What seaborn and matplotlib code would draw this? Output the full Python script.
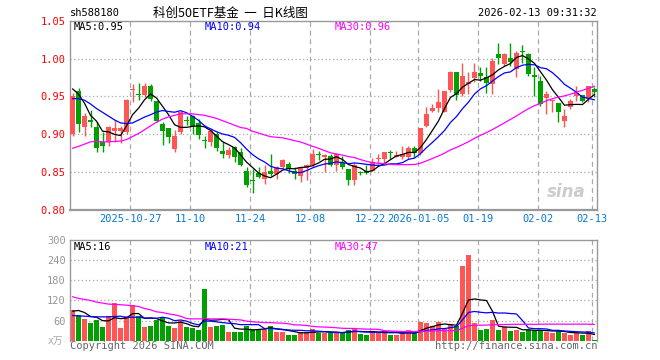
import numpy as np
import pandas as pd
import matplotlib
matplotlib.use("Agg")
import matplotlib.pyplot as plt
import seaborn as sns

# ---------------- data ----------------
opens = [0.900, 0.9575, 0.910, 0.919, 0.909, 0.8904, 0.8904, 0.904, 0.904, 0.9026,
         0.958, 0.9526, 0.9518, 0.964, 0.944, 0.9136, 0.908, 0.8807, 0.9026, 0.919,
         0.9237, 0.915, 0.8925, 0.8904, 0.9004, 0.8785, 0.8728, 0.883, 0.877, 0.852,
         0.840, 0.849, 0.841, 0.852, 0.8478, 0.8566, 0.861, 0.852, 0.8443, 0.8553,
         0.8588, 0.8737, 0.870, 0.871, 0.8588, 0.8623, 0.8544, 0.839, 0.8496, 0.8513,
         0.852, 0.8667, 0.8675, 0.8768, 0.8706, 0.8697, 0.8697, 0.882, 0.8754, 0.9114,
         0.931, 0.9346, 0.9298, 0.9583, 0.9816, 0.953, 0.9662, 0.9737, 0.9807, 0.9763,
         0.9662, 1.0057, 0.9934, 1.0013, 0.986, 1.0105, 1.0057, 0.9776, 0.9706, 0.9478,
         0.9434, 0.9412, 0.918, 0.9355, 0.950, 0.9517, 0.9465, 0.9596]
highs = [0.955, 0.9605, 0.928, 0.932, 0.9158, 0.9026, 0.9105, 0.919, 0.9105, 0.947,
         0.966, 0.9675, 0.9675, 0.966, 0.944, 0.9158, 0.908, 0.905, 0.931, 0.9246,
         0.9254, 0.920, 0.898, 0.908, 0.9035, 0.8904, 0.883, 0.885, 0.8816, 0.8566,
         0.8544, 0.8566, 0.8588, 0.874, 0.858, 0.8675, 0.863, 0.8566, 0.8566, 0.861,
         0.8807, 0.8785, 0.874, 0.874, 0.8754, 0.871, 0.8544, 0.8618, 0.852, 0.8588,
         0.8684, 0.874, 0.8763, 0.8798, 0.8785, 0.8842, 0.8842, 0.885, 0.9083, 0.9355,
         0.940, 0.9596, 0.9575, 0.9838, 0.9816, 0.9947, 0.9816, 0.9947, 0.9882, 0.9882,
         1.0013, 1.021, 1.007, 1.020, 1.010, 1.0175, 1.0079, 0.9882, 0.9772, 0.9575,
         0.9465, 0.9412, 0.9333, 0.9465, 0.964, 0.9517, 0.964, 0.9618]
lows = [0.898, 0.9026, 0.898, 0.909, 0.877, 0.877, 0.884, 0.890, 0.8886, 0.9004,
        0.942, 0.9456, 0.9487, 0.944, 0.9158, 0.886, 0.8886, 0.876, 0.9004, 0.912,
        0.9004, 0.894, 0.8816, 0.885, 0.8785, 0.8684, 0.8684, 0.863, 0.858, 0.830,
        0.8228, 0.842, 0.8346, 0.8447, 0.841, 0.8544, 0.849, 0.841, 0.8368, 0.839,
        0.8566, 0.8654, 0.850, 0.8575, 0.851, 0.8544, 0.8325, 0.8333, 0.8465, 0.847,
        0.851, 0.861, 0.8623, 0.8675, 0.8697, 0.8675, 0.8675, 0.8697, 0.8728, 0.909,
        0.929, 0.9298, 0.929, 0.9553, 0.9456, 0.9509, 0.953, 0.9684, 0.9706, 0.9544,
        0.953, 0.9925, 0.990, 0.990, 0.975, 0.9947, 0.9772, 0.9509, 0.9377, 0.9267,
        0.929, 0.9167, 0.910, 0.9333, 0.9443, 0.942, 0.943, 0.9487]
closes = [0.951, 0.9136, 0.9246, 0.9158, 0.8816, 0.885, 0.909, 0.908, 0.908, 0.945,
          0.959, 0.9518, 0.964, 0.9465, 0.918, 0.9048, 0.896, 0.898, 0.929, 0.918,
          0.9114, 0.899, 0.8917, 0.9048, 0.8816, 0.874, 0.8798, 0.8697, 0.8596, 0.8333,
          0.8386, 0.8434, 0.850, 0.8478, 0.8566, 0.8654, 0.8544, 0.8478, 0.8566, 0.8596,
          0.874, 0.8724, 0.872, 0.8588, 0.874, 0.8566, 0.839, 0.8588, 0.8487, 0.8487,
          0.864, 0.868, 0.8763, 0.8754, 0.8732, 0.874, 0.8816, 0.8754, 0.9083, 0.9268,
          0.9346, 0.943, 0.9575, 0.9816, 0.9518, 0.9772, 0.9684, 0.9825, 0.9772, 0.9675,
          0.9969, 1.0013, 1.0057, 0.9956, 1.0079, 1.0092, 0.9794, 0.9763, 0.940, 0.953,
          0.9452, 0.9298, 0.9237, 0.9443, 0.9544, 0.9443, 0.964, 0.956]
volumes = [92, 77, 65, 52, 63, 42, 73, 113, 37, 73,
           107, 75, 40, 45, 63, 72, 45, 39, 58, 40,
           37, 33, 153, 42, 43, 48, 27, 27, 27, 43,
           35, 35, 35, 45, 27, 27, 18, 18, 27, 27,
           35, 23, 23, 23, 23, 27, 33, 35, 20, 17,
           30, 25, 29, 18, 18, 20, 33, 23, 57, 53,
           45, 57, 37, 47, 45, 223, 255, 52, 33, 35,
           63, 33, 40, 30, 33, 27, 33, 30, 33, 27,
           22, 33, 22, 18, 23, 18, 30, 3]

# moving-average values at the left edge (need history before the window)
ma5_head = [0.960, 0.953, 0.941, 0.925]
ma10_head = [0.947, 0.947, 0.945, 0.940, 0.934, 0.929, 0.924, 0.919, 0.915]
ma30_head = [0.8815, 0.884, 0.887, 0.890, 0.8905, 0.890, 0.890, 0.8905, 0.891, 0.893,
             0.897, 0.901, 0.906, 0.911, 0.916, 0.920, 0.923, 0.925, 0.927, 0.927,
             0.927, 0.926, 0.925, 0.923, 0.921, 0.918, 0.915, 0.912, 0.909]
vma5_head = [88, 90, 84, 72]
vma10_head = [75, 74, 73, 72, 71, 71, 71, 72, 73]
vma30_head = [131, 126, 123, 120, 115, 112, 109, 108, 107, 106,
              104, 102, 96, 92, 86, 84, 80, 77, 73, 66,
              65, 65, 65, 65, 65, 65, 64, 63, 62]

tick_dates = ["2025-10-27", "2025-11-10", "2025-11-24", "2025-12-08", "2025-12-22",
              "2026-01-05", "2026-01-19", "2026-02-02", "2026-02-13"]
tick_labels = ["2025-10-27", "11-10", "11-24", "12-08", "12-22",
               "2026-01-05", "01-19", "02-02", "02-13"]
holidays = ["2026-01-01", "2026-01-02"]

title = "科创50ETF基金  一  日K线图"
code = "sh588180"
stamp = "2026-02-13 09:31:32"
price_labels = ["MA5:0.95", "MA10:0.94", "MA30:0.96"]
vol_labels = ["MA5:16", "MA10:21", "MA30:47"]

# ---------------- frame ----------------
dates = pd.bdate_range("2025-10-13", "2026-02-13").drop(pd.to_datetime(holidays))
df = pd.DataFrame({"date": dates, "open": opens, "high": highs, "low": lows,
                   "close": closes, "vol": volumes})
df["i"] = np.arange(len(df))


def ma(series, n, head):
    m = series.rolling(n).mean().to_numpy()
    m[:len(head)] = head
    return m


df["ma5"] = ma(df["close"], 5, ma5_head)
df["ma10"] = ma(df["close"], 10, ma10_head)
df["ma30"] = ma(df["close"], 30, ma30_head)
df["vma5"] = ma(df["vol"], 5, vma5_head)
df["vma10"] = ma(df["vol"], 10, vma10_head)
df["vma30"] = ma(df["vol"], 30, vma30_head)

RED = "#ff5555"
GREEN = "#00a000"
GRID = "#aaaaaa"
SPINE = "#999999"
MONO = "DejaVu Sans Mono"

sns.set_theme(style="white")
plt.rcParams["font.family"] = ["DejaVu Sans Mono", "Noto Sans CJK SC"]

W, H = 660, 360
fig = plt.figure(figsize=(6.6, 3.6), dpi=100)
fig.patch.set_facecolor("white")
ax = fig.add_axes([70 / W, 1 - 210 / H, 527 / W, (210 - 20.7) / H])
axv = fig.add_axes([70 / W, 1 - 340.7 / H, 527 / W, (340.7 - 240) / H])

up = df["close"] >= df["open"]
colors = np.where(up, RED, GREEN)
bw = 0.83
tick_pos = [int(df.index[df["date"] == pd.Timestamp(d)][0]) - bw / 2 for d in tick_dates]

# ---------------- price panel ----------------
for yv in [0.85, 0.90, 0.95, 1.00]:
    ax.axhline(yv, color=GRID, lw=0.9, ls=(0, (1, 2)), zorder=0)
for xv in tick_pos:
    ax.axvline(xv, color=GRID, lw=0.9, ls=(0, (4, 3)), zorder=0)

ax.vlines(df["i"], df["low"], df["high"], colors=colors, lw=1.0, zorder=2)
body_bottom = np.minimum(df["open"], df["close"])
body_h = np.maximum(np.abs(df["close"] - df["open"]), 0.0014)
ax.bar(df["i"], body_h, bottom=body_bottom, width=bw, color=colors, linewidth=0, zorder=3)

sns.lineplot(data=df, x="i", y="ma5", ax=ax, color="black", lw=0.9, zorder=4)
sns.lineplot(data=df, x="i", y="ma10", ax=ax, color="#0000ff", lw=0.9, zorder=4)
sns.lineplot(data=df, x="i", y="ma30", ax=ax, color="#ff00ff", lw=0.9, zorder=4)

ax.set_xlim(-bw / 2 - 0.005, len(df) - 1 + bw / 2 + 0.005)
ax.set_ylim(0.80, 1.05)
ax.set_yticks([0.80, 0.85, 0.90, 0.95, 1.00, 1.05])
ax.set_yticklabels(["0.80", "0.85", "0.90", "0.95", "1.00", "1.05"],
                   color="#ff0000", fontsize=7.5, family=MONO)
ax.set_xticks(tick_pos)
ax.set_xticklabels(tick_labels, color="#0a78d2", fontsize=7.5, family=MONO)
ax.tick_params(axis="both", length=0, pad=3)
ax.set_xlabel("")
ax.set_ylabel("")
for s in ax.spines.values():
    s.set_color(SPINE)
    s.set_linewidth(1.0)
ax.spines["bottom"].set_linewidth(1.6)

# ---------------- volume panel ----------------
for yv in [60, 120, 180, 240]:
    axv.axhline(yv, color=GRID, lw=0.9, ls=(0, (1, 2)), zorder=0)
for xv in tick_pos:
    axv.axvline(xv, color=GRID, lw=0.9, ls=(0, (4, 3)), zorder=0)
axv.bar(df["i"], df["vol"], width=bw, color=colors, linewidth=0, zorder=2)
sns.lineplot(data=df, x="i", y="vma5", ax=axv, color="black", lw=0.9, zorder=4)
sns.lineplot(data=df, x="i", y="vma10", ax=axv, color="#0000ff", lw=0.9, zorder=4)
sns.lineplot(data=df, x="i", y="vma30", ax=axv, color="#ff00ff", lw=0.9, zorder=4)
axv.set_xlim(ax.get_xlim())
axv.set_ylim(0, 300)
axv.set_yticks([60, 120, 180, 240, 300])
axv.set_yticklabels(["60", "120", "180", "240", "300"], color="#999999",
                    fontsize=7.5, family=MONO)
axv.set_xticks([])
axv.tick_params(axis="both", length=0, pad=3)
axv.set_xlabel("")
axv.set_ylabel("")
for s in axv.spines.values():
    s.set_color(SPINE)
    s.set_linewidth(1.0)
axv.spines["bottom"].set_visible(False)


def ftext(x, y, s, **kw):
    fig.text(x / W, 1 - y / H, s, va="center", **kw)


# ---------------- texts ----------------
ftext(70, 13, code, ha="left", fontsize=7.5, family=MONO, color="black")
ftext(230, 13, title, ha="center", fontsize=9,
      family=["Noto Sans CJK SC", "DejaVu Sans"], color="black")
ftext(597, 13, stamp, ha="right", fontsize=7.5, family=MONO, color="black")

lab_cols = ["black", "#0000ff", "#ff00ff"]
for xx, s, c in zip([74, 205, 335], price_labels, lab_cols):
    ftext(xx, 27, s, ha="left", fontsize=7.5, family=MONO, color=c)
for xx, s, c in zip([74, 205, 335], vol_labels, lab_cols):
    ftext(xx, 247, s, ha="left", fontsize=7.5, family=MONO, color=c)

ftext(48, 341, "x万", ha="left", fontsize=7, family=["DejaVu Sans Mono", "Noto Sans CJK SC"],
      color="#aaaaaa")
ftext(70, 346, "Copyright 2026 SINA.COM", ha="left", fontsize=7.5, family=MONO,
      color="#666666")
ftext(597, 346, "http://finance.sina.com.cn", ha="right", fontsize=7.5, family=MONO,
      color="#666666")
ftext(566, 192, "sina", ha="center", fontsize=12, family="DejaVu Sans",
      fontweight="bold", style="italic", color="#cccccc")

fig.savefig("out.png", dpi=100, facecolor="white")
